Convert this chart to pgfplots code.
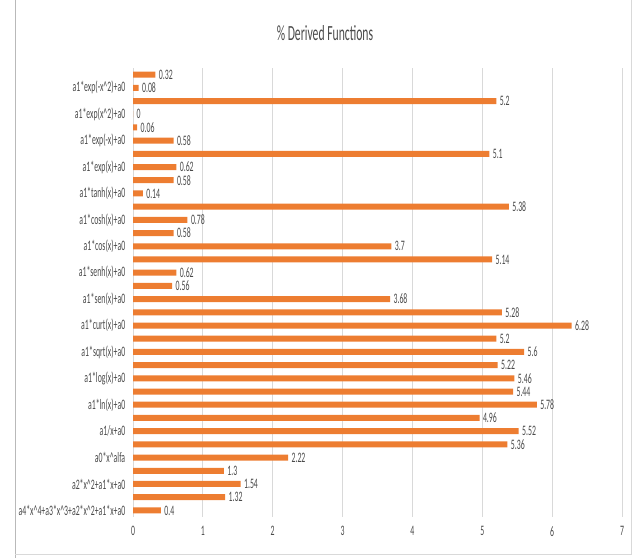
\documentclass[border=0pt]{standalone}
\usepackage{pgfplots}
\pgfplotsset{compat=1.18}
\usepackage{fontspec}
\setmainfont{Carlito}[FakeStretch=0.54]
\definecolor{barorange}{HTML}{ED7D31}
\definecolor{txtgray}{HTML}{4A4A4A}
\definecolor{gridgray}{HTML}{D9D9D9}
\newcommand{\cc}{\textasciicircum}
\begin{document}
\begin{tikzpicture}[x=1bp,y=1bp]
\useasboundingbox (0,0) rectangle (642,558);
\draw[gray!55, line width=0.8bp] (15,0) -- (15,558);
\draw[gray!30, line width=0.6bp] (15,4) -- (631,4) -- (631,558);
\node[text=txtgray, font=\fontsize{21.7}{24}\selectfont] at (325,525) {\% Derived Functions};
\begin{axis}[
  at={(133bp,41bp)}, anchor=south west,
  scale only axis, width=489bp, height=449bp,
  xbar, bar width=6bp,
  xmin=0, xmax=7, ymin=-0.5, ymax=33.5,
  xtick={0,1,2,3,4,5,6,7},
  xticklabels={0,1,2,3,4,5,6,7},
  ytick={0,2,...,32},
  yticklabels={a4*x\cc4+a3*x\cc3+a2*x\cc2+a1*x+a0, a2*x\cc2+a1*x+a0, a0*x\cc alfa, a1/x+a0, a1*ln(x)+a0, a1*log(x)+a0, a1*sqrt(x)+a0, a1*curt(x)+a0, a1*sen(x)+a0, a1*senh(x)+a0, a1*cos(x)+a0, a1*cosh(x)+a0, a1*tanh(x)+a0, a1*exp(x)+a0, a1*exp(-x)+a0, a1*exp(x\cc2)+a0, a1*exp(-x\cc2)+a0},
  xmajorgrids, grid style={gridgray, line width=0.8bp},
  axis line style={draw=none}, tick style={draw=none},
  ticklabel style={text=txtgray, font=\fontsize{14.5}{16}\selectfont},
  xticklabel style={yshift=-6bp},
  point meta=explicit symbolic,
  nodes near coords={\pgfplotspointmeta},
  nodes near coords style={text=txtgray, font=\fontsize{14.5}{16}\selectfont, anchor=west},
]
\addplot[fill=barorange, draw=none] coordinates {
(0.4,0) [0.4] (1.32,1) [1.32] (1.54,2) [1.54] (1.3,3) [1.3] (2.22,4) [2.22]
(5.36,5) [5.36] (5.52,6) [5.52] (4.96,7) [4.96] (5.78,8) [5.78] (5.44,9) [5.44]
(5.46,10) [5.46] (5.22,11) [5.22] (5.6,12) [5.6] (5.2,13) [5.2] (6.28,14) [6.28]
(5.28,15) [5.28] (3.68,16) [3.68] (0.56,17) [0.56] (0.62,18) [0.62] (5.14,19) [5.14]
(3.7,20) [3.7] (0.58,21) [0.58] (0.78,22) [0.78] (5.38,23) [5.38] (0.14,24) [0.14]
(0.58,25) [0.58] (0.62,26) [0.62] (5.1,27) [5.1] (0.58,28) [0.58] (0.06,29) [0.06]
(0,30) [0] (5.2,31) [5.2] (0.08,32) [0.08] (0.32,33) [0.32]
};
\end{axis}
\end{tikzpicture}
\end{document}
